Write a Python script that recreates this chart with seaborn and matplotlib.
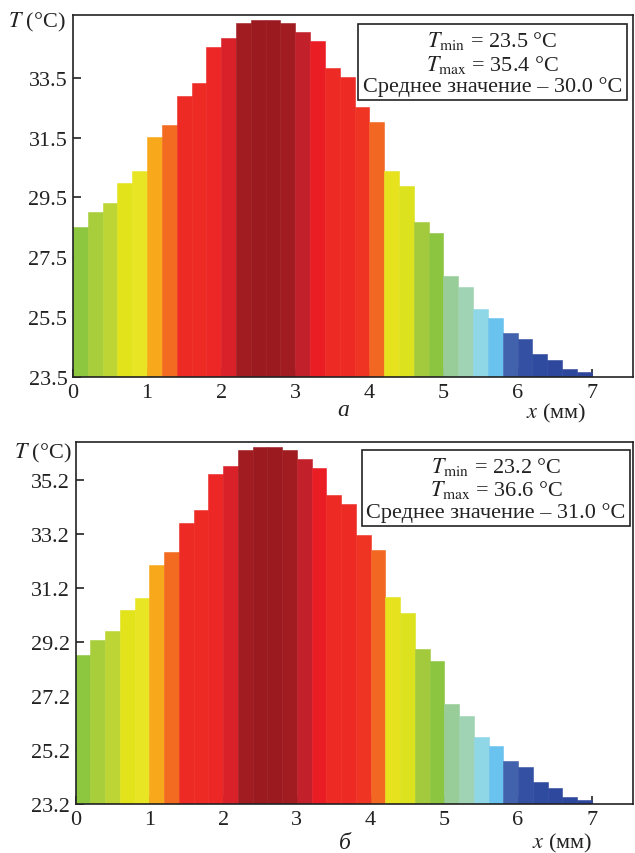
import pandas as pd
import matplotlib.pyplot as plt
import seaborn as sns

# bar centres along x (mm), 0.2 mm bins
x_mm = [0.1, 0.3, 0.5, 0.7, 0.9, 1.1, 1.3, 1.5, 1.7, 1.9, 2.1, 2.3, 2.5, 2.7, 2.9, 3.1, 3.3, 3.5,
        3.7, 3.9, 4.1, 4.3, 4.5, 4.7, 4.9, 5.1, 5.3, 5.5, 5.7, 5.9, 6.1, 6.3, 6.5, 6.7, 6.9]

# panel a temperatures (°C)
t_a = [28.50, 29.00, 29.31, 30.00, 30.40, 31.51, 31.92, 32.90, 33.32, 34.52, 34.82, 35.33,
       35.42, 35.42, 35.33, 35.04, 34.73, 33.83, 33.52, 32.51, 32.01, 30.40, 29.89, 28.69,
       28.30, 26.89, 26.50, 25.77, 25.47, 24.96, 24.77, 24.27, 24.07, 23.77, 23.68]

# panel b temperatures (°C)
t_b = [28.71, 29.27, 29.59, 30.38, 30.83, 32.04, 32.51, 33.61, 34.08, 35.41, 35.72, 36.30,
       36.40, 36.40, 36.30, 35.97, 35.62, 34.63, 34.30, 33.16, 32.61, 30.85, 30.27, 28.93,
       28.50, 26.90, 26.47, 25.69, 25.36, 24.78, 24.56, 24.00, 23.79, 23.45, 23.35]

bar_colors = ["#8dc63f", "#a9ce3c", "#bdd636", "#e3e31b", "#e8e624", "#f8a81b", "#f36b21",
              "#ee2a24", "#ee2a24", "#ec2726", "#d9212a", "#a11c21", "#9b1a1f", "#9b1a1f",
              "#a11c21", "#c2202a", "#ea1d25", "#ee2a24", "#ee2a24", "#ef3424", "#f26722",
              "#e6e31e", "#dce21e", "#a2ca3c", "#8cc540", "#98cc98", "#a0d3b3", "#8fd6e6",
              "#6ac2ee", "#4262ad", "#3450a2", "#2f4b9f", "#2d489d", "#2d479c", "#2d469c"]

x_ticks = [0, 1, 2, 3, 4, 5, 6, 7]
yticks_a = [23.5, 25.5, 27.5, 29.5, 31.5, 33.5]
yticks_b = [23.2, 25.2, 27.2, 29.2, 31.2, 33.2, 35.2]

sns.set_style("ticks")
plt.rcParams['font.family'] = ['Liberation Serif', 'DejaVu Serif']
plt.rcParams['mathtext.fontset'] = 'stix'
plt.rcParams['font.size'] = 16


def draw_panel(ax, temps, ylim, yticks, info, letter, box_xy, tlab_xy, xlab_xy, letter_xy):
    df = pd.DataFrame({"x": x_mm, "T": temps, "bin": [str(i) for i in range(len(x_mm))]})
    sns.barplot(data=df, x="x", y="T", hue="bin", palette=bar_colors, native_scale=True,
                width=1.0, dodge=False, legend=False, errorbar=None, saturation=1, ax=ax)
    for p in ax.patches:
        p.set_edgecolor(p.get_facecolor())
        p.set_linewidth(0.4)
    ax.set_xlim(0, 7.56)
    ax.set_ylim(*ylim)
    ax.set_xticks(x_ticks)
    ax.set_xticklabels([str(v) for v in x_ticks])
    ax.set_yticks(yticks)
    ax.set_yticklabels([f"{v:.1f}" for v in yticks])
    ax.set_xlabel("")
    ax.set_ylabel("")
    ax.tick_params(direction="in", length=6, width=1.2, colors="#222222", labelsize=16,
                   labelcolor="#222222", pad=4)
    for s in ax.spines.values():
        s.set_visible(True)
        s.set_linewidth(1.2)
        s.set_color("#222222")
        s.set_zorder(5)

    ax.text(box_xy[0], box_xy[1], info, transform=ax.transAxes, ha="center", va="center",
            multialignment="center", fontsize=16, linespacing=1.1, color="#222222",
            bbox=dict(boxstyle="square,pad=0.2", fc="white", ec="#222222", lw=1.2), zorder=6)
    ax.text(tlab_xy[0], tlab_xy[1], r"$T$ (°C)", transform=ax.transAxes, ha="right",
            va="center", fontsize=16, color="#222222")
    ax.text(xlab_xy[0], xlab_xy[1], r"$x$ (мм)", transform=ax.transAxes, ha="center",
            va="center", fontsize=16, color="#222222")
    ax.text(letter_xy[0], letter_xy[1], letter, transform=ax.transAxes, ha="center",
            va="center", fontsize=17, fontstyle="italic", color="#222222")


fig = plt.figure(figsize=(6.35, 8.54), dpi=100)
ax_a = fig.add_axes([0.115, 0.5574, 0.882, 0.4239])
ax_b = fig.add_axes([0.1192, 0.0574, 0.8777, 0.4239])

info_a = "$T_{\\mathrm{min}}$ = 23.5 °C\n$T_{\\mathrm{max}}$ = 35.4 °C\nСреднее значение – 30.0 °C"
info_b = "$T_{\\mathrm{min}}$ = 23.2 °C\n$T_{\\mathrm{max}}$ = 36.6 °C\nСреднее значение – 31.0 °C"

draw_panel(ax_a, t_a, (23.5, 35.6), yticks_a, info_a, "а",
           (0.749, 0.869), (-0.014, 0.981), (0.8625, -0.097), (0.482, -0.09))
draw_panel(ax_b, t_b, (23.2, 36.6), yticks_b, info_b, "б",
           (0.754, 0.872), (-0.007, 0.972), (0.873, -0.106), (0.483, -0.106))

fig.savefig("out.png", dpi=100)
